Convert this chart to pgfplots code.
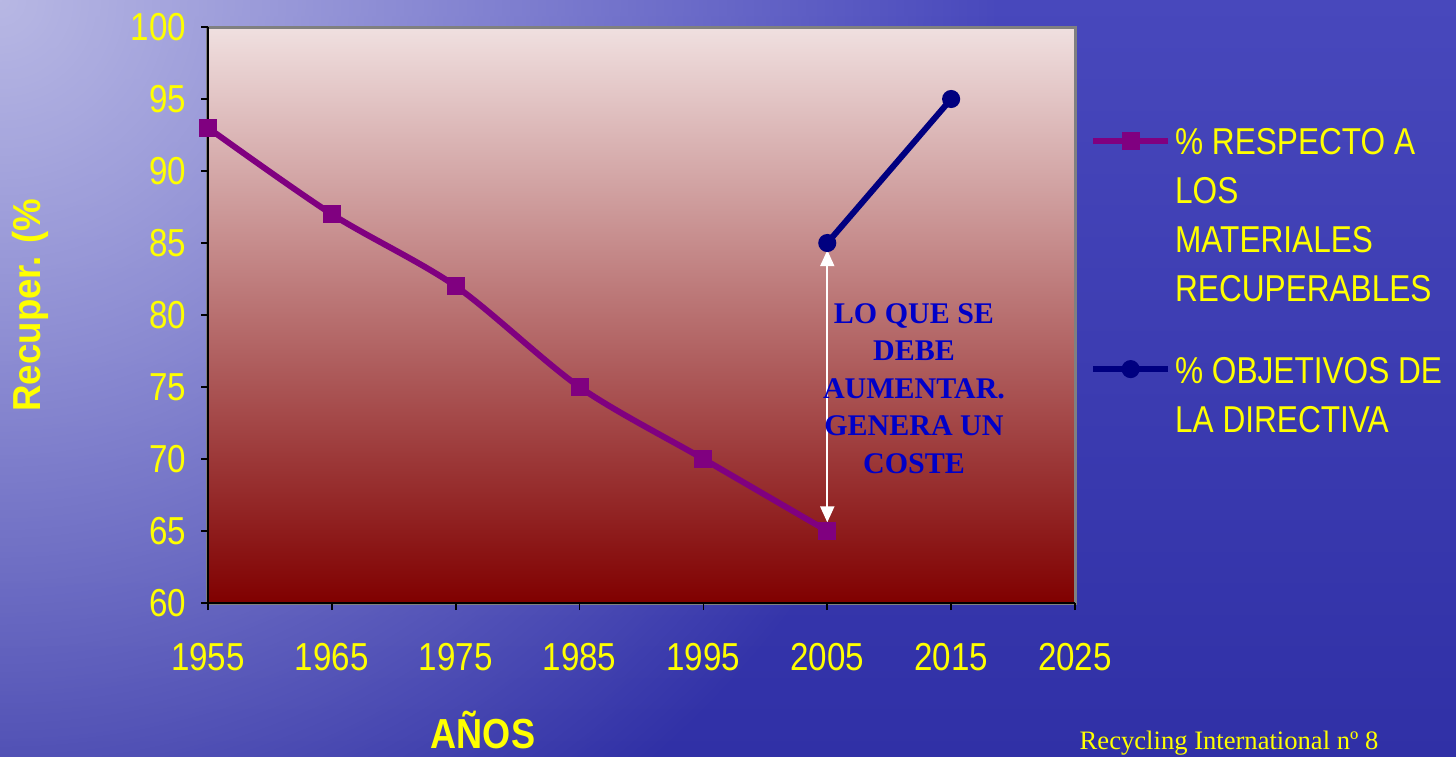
\documentclass[border=0pt]{standalone}
\usepackage{fontspec}
\setmainfont{Liberation Sans}
\newfontfamily\tickfont{Liberation Sans}[FakeStretch=0.85]
\newfontfamily\legfont{Liberation Sans}[FakeStretch=0.845]
\newfontfamily\labfont{Liberation Sans}[FakeStretch=0.86]
\newfontfamily\ylabfont{Liberation Sans}[FakeStretch=0.94]
\newfontfamily\serif{Liberation Serif}
\usepackage{pgfplots}
\pgfplotsset{compat=1.18}
\usetikzlibrary{arrows.meta,fadings}

\definecolor{bgtop}{RGB}{72,72,188}
\definecolor{bgbot}{RGB}{48,48,166}
\definecolor{lav}{RGB}{184,184,228}
\definecolor{plottop}{RGB}{240,224,224}
\definecolor{plotbot}{RGB}{128,0,0}
\definecolor{serpurple}{RGB}{128,0,128}
\definecolor{sernavy}{RGB}{0,0,128}
\definecolor{txtblue}{RGB}{0,0,200}
\definecolor{ylw}{RGB}{255,255,0}

\tikzfading[name=lightfade, inner color=transparent!0, outer color=transparent!100]

\begin{document}
\begin{tikzpicture}
\useasboundingbox (-104pt,-76.5pt) rectangle (624pt,301.5pt);
% sea background
\shade[top color=bgtop, bottom color=bgbot] (-104pt,-76.5pt) rectangle (624pt,301.5pt);
\begin{scope}
\clip (-104pt,-76.5pt) rectangle (624pt,301.5pt);
\fill[lav, path fading=lightfade] (-104pt,301.5pt) circle (500pt);
\end{scope}

\begin{axis}[
    at={(0pt,0pt)}, anchor=south west,
    scale only axis,
    width=433.5pt, height=288pt,
    xmin=1955, xmax=2025,
    ymin=60, ymax=100,
    xtick={1955,1965,...,2025},
    ytick={60,65,...,100},
    axis lines=left,
    axis line style={-, black, line width=0.8pt},
    tick align=outside,
    major tick length=3.5pt,
    tick style={black, line width=0.8pt},
    /pgf/number format/1000 sep={},
    /pgf/number format/assume math mode=true,
    ticklabel style={font=\tickfont\fontsize{19.5}{22}\selectfont, text=ylw},
    xticklabel style={yshift=-13pt},
    yticklabel style={xshift=-4pt},
    axis background/.style={shade, top color=plottop, bottom color=plotbot,
        draw=gray, line width=1.5pt},
    legend style={at={(rel axis cs:1.017,0.84)}, anchor=north west,
        draw=none, fill=none, inner sep=0pt,
        font=\legfont\fontsize{18.7}{22.4}\selectfont, text=ylw,
        row sep=93pt},
    legend cell align=left,
    legend image code/.code={
        \draw[mark repeat=2, mark phase=2] plot coordinates {(0pt,0pt) (18.75pt,0pt) (37.5pt,0pt)};
    },
]

% % respecto a los materiales recuperables
\addplot[serpurple, line width=3pt, smooth, tension=0.5,
    mark=square*, mark size=3pt, mark options={solid}] coordinates {
    (1955,93) (1965,87) (1975,82) (1985,75) (1995,70) (2005,65)
};
\addlegendentry{\begin{tabular}[t]{@{}l@{}}\% RESPECTO A\\[2pt]LOS\\[2pt]MATERIALES\\[2pt]RECUPERABLES\end{tabular}}

% % objetivos de la directiva
\addplot[sernavy, line width=3pt, mark=*, mark size=3pt] coordinates {
    (2005,85) (2015,95)
};
\addlegendentry{\begin{tabular}[t]{@{}l@{}}\% OBJETIVOS DE\\[2pt]LA DIRECTIVA\end{tabular}}

\draw[white, line width=1pt, {Triangle[width=7pt,length=8pt]}-{Triangle[width=7pt,length=8pt]}]
    (axis cs:2005,84.5) -- (axis cs:2005,65.6);
\node[align=center, text=txtblue, font=\serif\bfseries\fontsize{15}{18.8}\selectfont]
    at (axis cs:2012,74.9) {LO QUE SE\\DEBE\\AUMENTAR.\\GENERA UN\\COSTE};
\end{axis}

\node[rotate=90, text=ylw, font=\ylabfont\bfseries\fontsize{19.5}{22}\selectfont]
    at (-89pt,149pt) {Recuper. (\%};
\node[anchor=base, text=ylw, font=\labfont\bfseries\fontsize{21}{24}\selectfont]
    at (137.5pt,-72.5pt) {AÑOS};
\node[anchor=base, text=ylw, font=\serif\fontsize{13.3}{16}\selectfont]
    at (510.5pt,-73pt) {Recycling International nº 8};
\end{tikzpicture}
\end{document}
